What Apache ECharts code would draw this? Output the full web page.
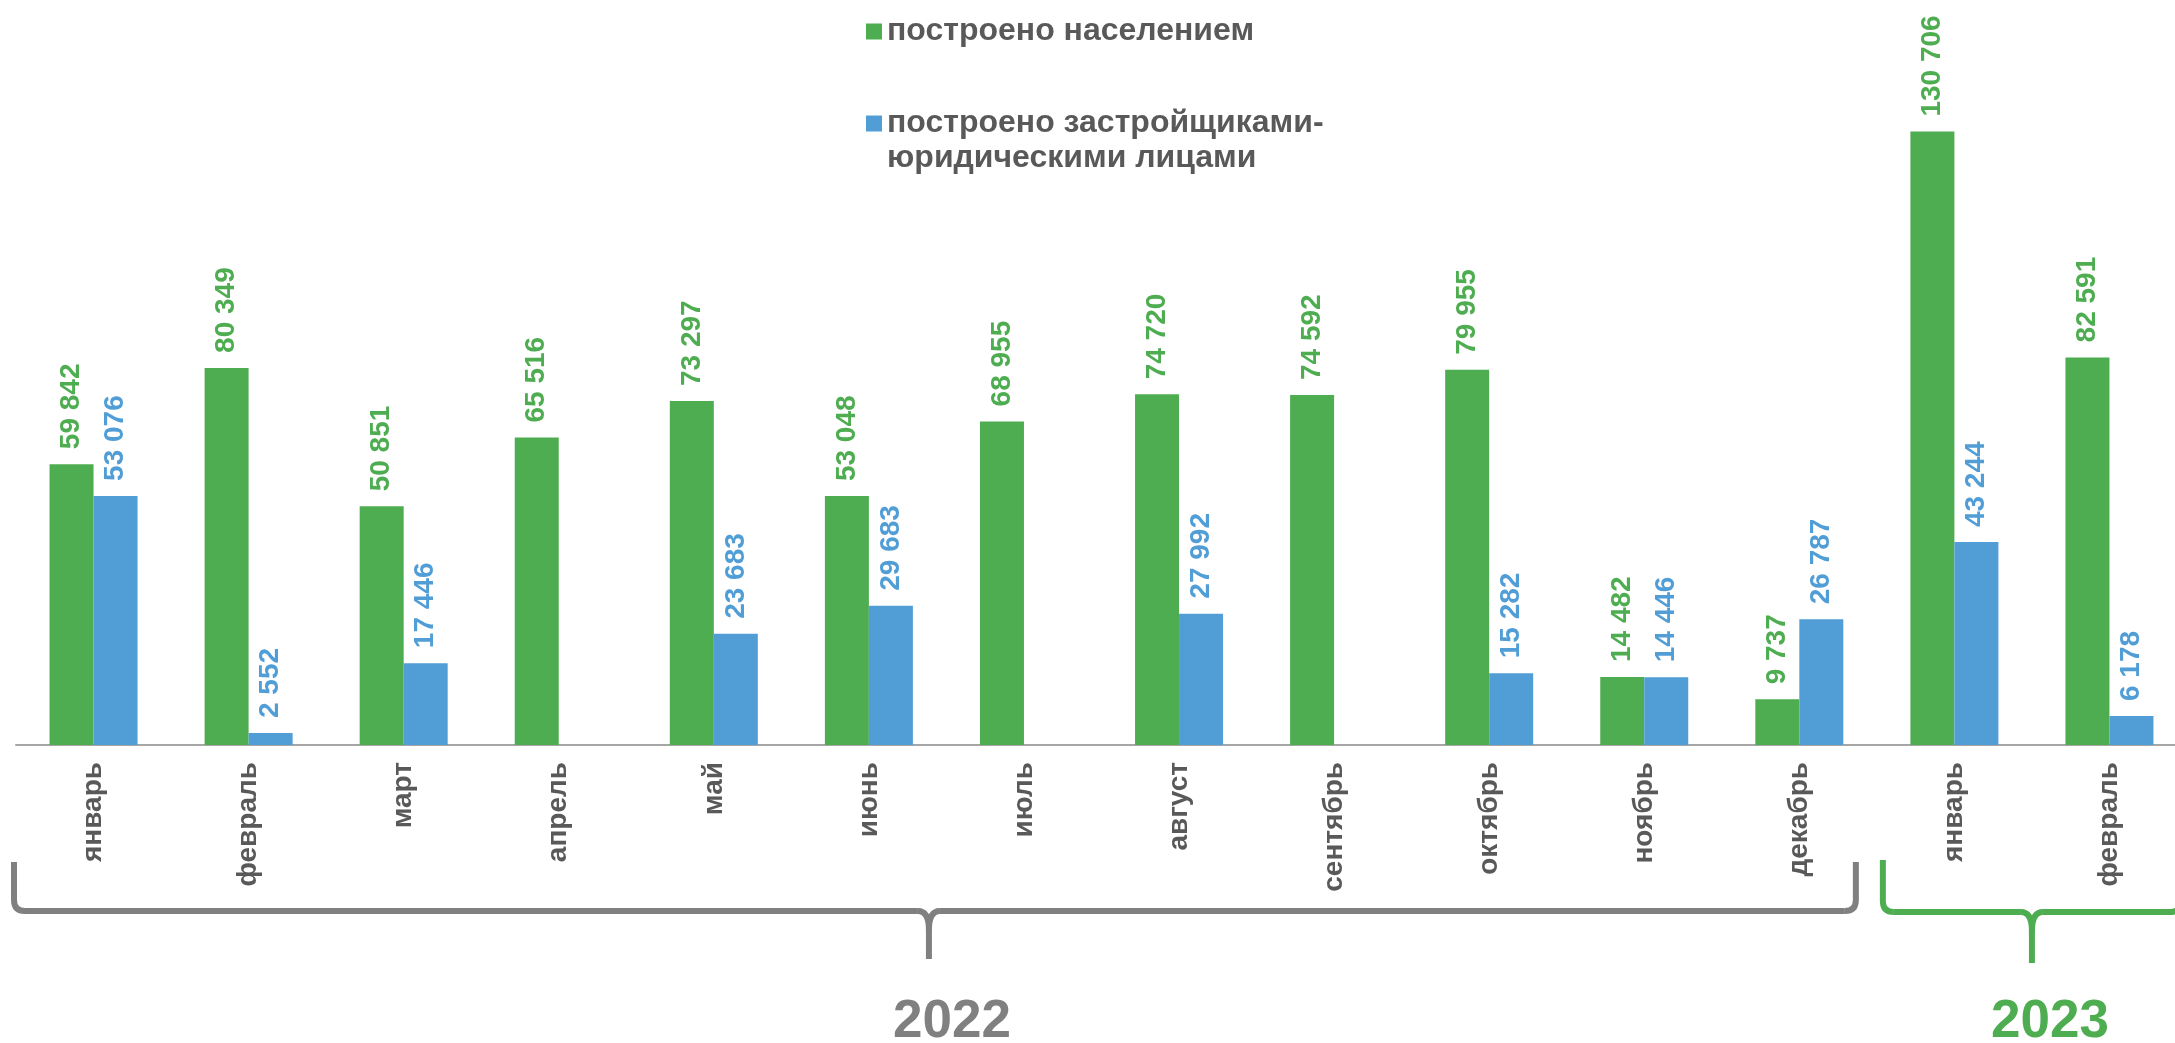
<!DOCTYPE html>
<html>
<head>
<meta charset="utf-8">
<script src="https://cdn.jsdelivr.net/npm/echarts@6/dist/echarts.min.js"></script>
<style>
html,body{margin:0;padding:0;background:#fff;}
#c{width:2175px;height:1043px;}
</style>
</head>
<body>
<div id="c"></div>
<script>
const categories = ['январь','февраль','март','апрель','май','июнь','июль','август','сентябрь','октябрь','ноябрь','декабрь','январь','февраль'];
const populationBuilt = [59842, 80349, 50851, 65516, 73297, 53048, 68955, 74720, 74592, 79955, 14482, 9737, 130706, 82591];
const developersBuilt = [53076, 2552, 17446, null, 23683, 29683, null, 27992, null, 15282, 14446, 26787, 43244, 6178];
const seriesNames = ['построено населением', 'построено застройщиками-\nюридическими лицами'];
const years = ['2022', '2023'];

const GREEN = '#4EAD50', BLUE = '#519ED7', GRAY = '#595959', BRACE_GRAY = '#808080';
const FONT = '"Liberation Sans", Arial, sans-serif';

function fmt(v) {
  return String(v).replace(/\B(?=(\d{3})+(?!\d))/g, ' ');
}

const chart = echarts.init(document.getElementById('c'), null, {renderer: 'canvas'});

function labelFor(color) {
  return {
    show: true, position: 'top', rotate: 90, align: 'left', verticalAlign: 'middle',
    distance: 15, color: color, fontFamily: FONT, fontWeight: 'bold', fontSize: 28,
    formatter: p => (p.value == null ? '' : fmt(p.value))
  };
}

chart.setOption({
  animation: false,
  backgroundColor: '#ffffff',
  legend: {
    orient: 'vertical', left: 861, top: 9, itemWidth: 16, itemHeight: 16, itemGap: 22,
    icon: 'rect', selectedMode: false,
    textStyle: {fontFamily: FONT, fontWeight: 'bold', fontSize: 32, color: GRAY, lineHeight: 35},
    formatter: name => (name === seriesNames[1] ? '\u00a0\n' + name : name),
    data: [seriesNames[0], seriesNames[1]]
  },
  grid: {left: 16, width: 2171, top: 88, height: 657, containLabel: false, outerBoundsMode: 'none'},
  xAxis: {
    type: 'category', data: categories,
    axisLine: {show: true, lineStyle: {color: '#A6A6A6', width: 2}},
    axisTick: {show: false},
    axisLabel: {rotate: 90, margin: 17, color: GRAY, fontFamily: FONT, fontWeight: 'bold', fontSize: 28, interval: 0}
  },
  yAxis: {
    type: 'value', min: 0, max: 140000, show: false, splitLine: {show: false}
  },
  series: [
    {name: seriesNames[0], type: 'bar', data: populationBuilt, barWidth: 44, barGap: '0%',
     itemStyle: {color: GREEN}, label: labelFor(GREEN)},
    {name: seriesNames[1], type: 'bar', data: developersBuilt, barWidth: 44, barGap: '0%',
     itemStyle: {color: BLUE}, label: labelFor(BLUE)}
  ]
});

function braceElements(x1, x2, xm, yTop, yH, yTip, r, tw, th, color) {
  const st = {stroke: color, lineWidth: 6, fill: 'none', lineCap: 'butt'};
  const L = (a, b, c, d) => ({type: 'line', shape: {x1: a, y1: b, x2: c, y2: d}, style: st, silent: true});
  const Q = (a, b, cx, cy, c, d) => ({type: 'bezierCurve', shape: {x1: a, y1: b, cpx1: cx, cpy1: cy, x2: c, y2: d}, style: st, silent: true});
  return [
    L(x1, yTop, x1, yH - r),
    Q(x1, yH - r, x1, yH, x1 + r, yH),
    L(x1 + r, yH, xm - tw, yH),
    Q(xm - tw, yH, xm, yH, xm, yH + th),
    L(xm, yH + th, xm, yTip),
    Q(xm, yH + th, xm, yH, xm + tw, yH),
    L(xm + tw, yH, x2 - r, yH),
    Q(x2 - r, yH, x2, yH, x2, yH - r),
    L(x2, yH - r, x2, yTop)
  ];
}

const c0 = chart.convertToPixel({xAxisIndex: 0}, 0);
const c1 = chart.convertToPixel({xAxisIndex: 0}, 1);
const w = c1 - c0;
const c11 = chart.convertToPixel({xAxisIndex: 0}, 11);
const c12 = chart.convertToPixel({xAxisIndex: 0}, 12);
const c13 = chart.convertToPixel({xAxisIndex: 0}, 13);

const gx1 = c0 - w / 2 - 2, gx2 = c11 + w / 2 - 21, gxm = (gx1 + gx2) / 2 - 6;
const hx1 = c12 - w / 2 + 6, hx2 = c13 + w / 2 - 6, hxm = (hx1 + hx2) / 2;

chart.setOption({
  graphic: [].concat(
    braceElements(gx1, gx2, gxm, 862, 911, 959, 11, 11, 19, BRACE_GRAY),
    braceElements(hx1, hx2, hxm, 860, 912, 963, 11, 11, 19, GREEN),
    [
      {type: 'text', x: gxm + 23, y: 1022,
       style: {text: years[0], fill: BRACE_GRAY, fontFamily: FONT, fontWeight: 'bold', fontSize: 53, align: 'center', verticalAlign: 'middle'}},
      {type: 'text', x: hxm + 18, y: 1022,
       style: {text: years[1], fill: GREEN, fontFamily: FONT, fontWeight: 'bold', fontSize: 53, align: 'center', verticalAlign: 'middle'}}
    ]
  )
});
</script>
</body>
</html>
